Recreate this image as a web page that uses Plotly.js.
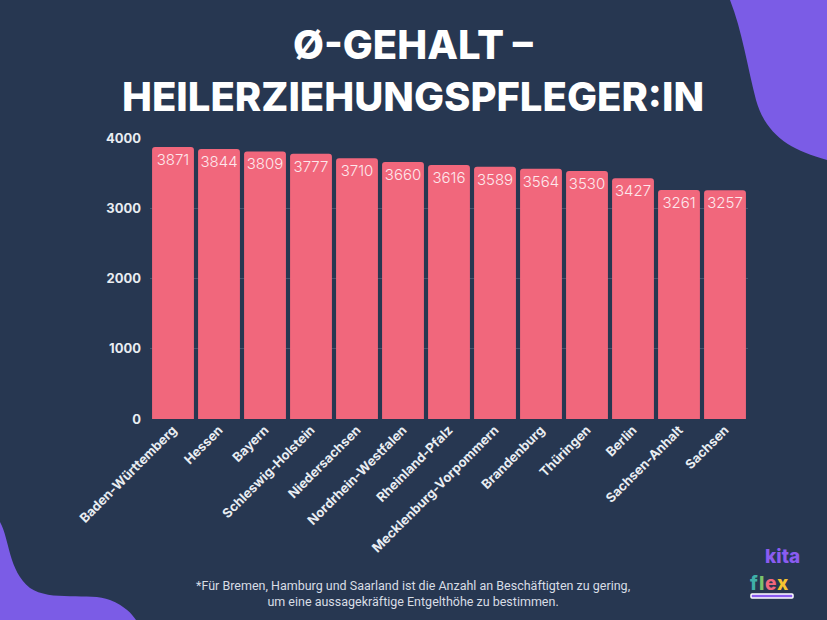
<!DOCTYPE html>
<html><head><meta charset="utf-8">
<script src="https://cdn.plot.ly/plotly-3.0.1.min.js"></script>
<style>
html,body{margin:0;padding:0;background:#273751;width:827px;height:620px;overflow:hidden;}
#wrap{position:relative;width:827px;height:620px;}
#deco{position:absolute;left:0;top:0;}
#chart{position:absolute;left:0;top:0;width:827px;height:620px;}
</style></head><body>
<div id="wrap">
<svg id="deco" width="827" height="620" viewBox="0 0 827 620">
  <path d="M730,0 C742,30 748,70 756,100 C766,135 790,150 827,160 L827,0 Z" fill="#7b5ce6"/>
  <path d="M0,522 C10,540 8,570 30,588 C50,602 90,592 110,600 C125,606 132,614 136,620 L0,620 Z" fill="#7b5ce6"/>
  <rect x="751" y="594" width="42" height="4" rx="1" fill="#8a5cf0" stroke="#ffffff" stroke-width="1.5"/>
</svg>
<div id="chart"></div>
</div>
<script>
const categories = ["Baden-Württemberg","Hessen","Bayern","Schleswig-Holstein","Niedersachsen","Nordrhein-Westfalen","Rheinland-Pfalz","Mecklenburg-Vorpommern","Brandenburg","Thüringen","Berlin","Sachsen-Anhalt","Sachsen"];
const salaries = [3871,3844,3809,3777,3710,3660,3616,3589,3564,3530,3427,3261,3257];
const yTicks = [0,1000,2000,3000,4000];
const titleLine1 = "Ø-GEHALT –";
const titleLine2 = "HEILERZIEHUNGSPFLEGER:IN";
const footnote = "*Für Bremen, Hamburg und Saarland ist die Anzahl an Beschäftigten zu gering,<br>um eine aussagekräftige Entgelthöhe zu bestimmen.";
const logoTop = "kita";
const logoLetters = ["f","l","e","x"];
const logoColors = ["#3fb0a8","#7cc46a","#f1677c","#f5c230"];
const logoLetterX = [1.0100, 1.0226, 1.0376, 1.0577];

const trace = {
  type: "bar",
  x: categories,
  y: salaries,
  text: salaries.map(String),
  textposition: "inside",
  insidetextanchor: "end",
  textangle: 0,
  constraintext: "none",
  textfont: {family: "Inter, sans-serif", size: 15, color: "#fde8ec", weight: 300},
  marker: {color: "#f1677c", line: {width: 0}},
  hoverinfo: "none"
};

const titleFont = {family: "Inter, 'Open Sans', sans-serif", size: 40, color: "#ffffff", weight: 800};

const annotations = [
  {text: titleLine1, xref: "paper", yref: "paper", x: 0.44, y: 1.331, xanchor: "center", yanchor: "middle",
   showarrow: false, font: titleFont},
  {text: titleLine2, xref: "paper", yref: "paper", x: 0.44, y: 1.146, xanchor: "center", yanchor: "middle",
   showarrow: false, font: titleFont},
  {text: footnote, xref: "paper", yref: "paper", x: 0.44, y: -0.56, xanchor: "center", yanchor: "top",
   showarrow: false, align: "center",
   font: {family: "Roboto, sans-serif", size: 12.5, color: "#d8dde5"}},
  {text: logoTop, xref: "paper", yref: "paper", x: 1.058, y: -0.491, xanchor: "center", yanchor: "middle",
   showarrow: false, font: {family: "Inter, sans-serif", size: 19, color: "#8a5cf0", weight: 800}}
];
logoLetters.forEach((ch, i) => {
  annotations.push({text: ch, xref: "paper", yref: "paper", x: logoLetterX[i], y: -0.584,
    xanchor: "center", yanchor: "middle", showarrow: false,
    font: {family: "Inter, sans-serif", size: 19, color: logoColors[i], weight: 800}});
});

const layout = {
  width: 827, height: 620,
  paper_bgcolor: "rgba(0,0,0,0)",
  plot_bgcolor: "rgba(0,0,0,0)",
  margin: {l: 150, r: 79, t: 138, b: 201},
  bargap: 0.09,
  barcornerradius: 3,
  showlegend: false,
  xaxis: {
    tickangle: -45,
    tickfont: {family: "Inter, sans-serif", size: 13, color: "#e9edf2", weight: 700},
    showgrid: false, zeroline: false, showline: false, ticks: "",
    fixedrange: true
  },
  yaxis: {
    range: [0, 4000],
    tickvals: yTicks,
    ticktext: yTicks.map(String),
    tickfont: {family: "Inter, sans-serif", size: 13, color: "#e9edf2", weight: 700},
    showgrid: true, gridcolor: "#46566f", gridwidth: 1,
    zeroline: false, showline: false, ticks: "", ticklabelstandoff: 8,
    fixedrange: true
  },
  annotations: annotations
};

Plotly.newPlot("chart", [trace], layout, {displayModeBar: false, staticPlot: true});
</script>
</body></html>
